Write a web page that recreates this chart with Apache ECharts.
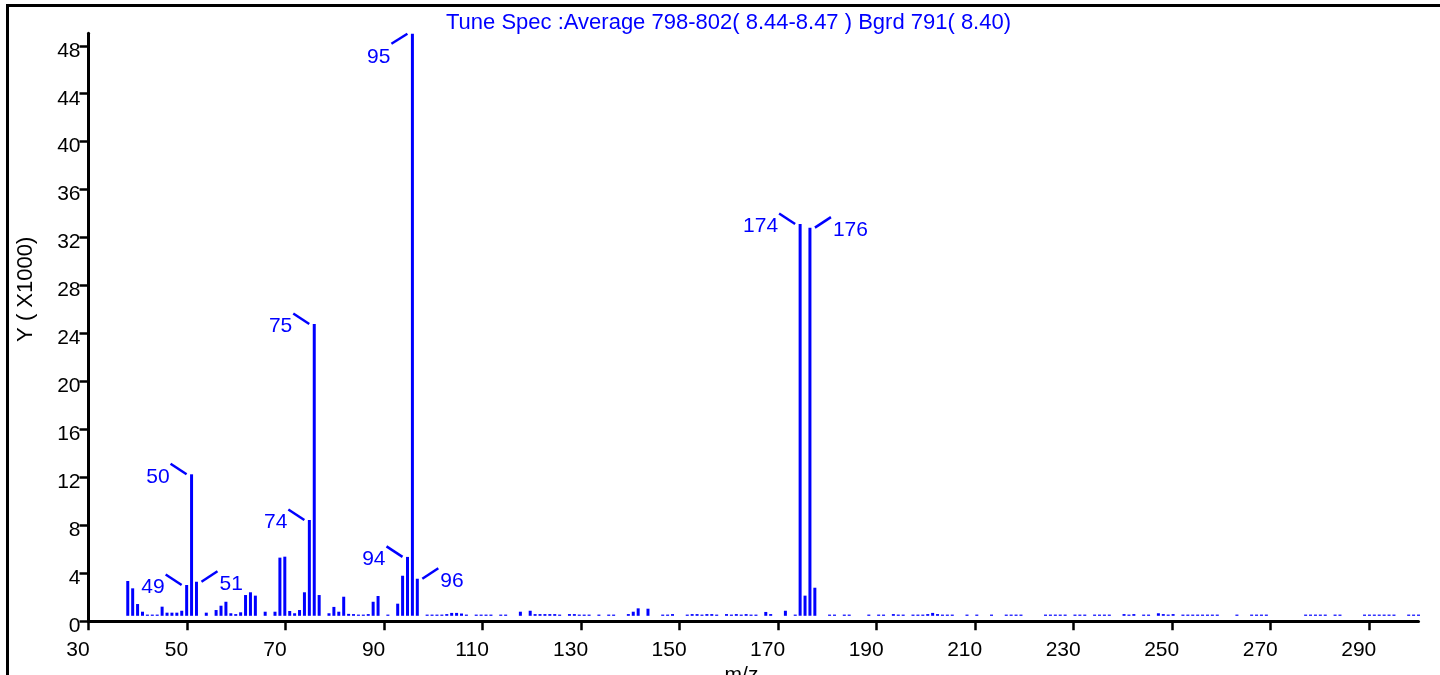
<!DOCTYPE html>
<html>
<head>
<meta charset="utf-8">
<script src="https://cdn.jsdelivr.net/npm/echarts@6/dist/echarts.min.js"></script>
<style>
html,body{margin:0;padding:0;background:#fff;}
#chart{width:1440px;height:675px;}
</style>
</head>
<body>
<div id="chart"></div>
<script>
// ---- data (m/z, intensity in thousands) ----
const titleText = 'Tune Spec :Average 798-802( 8.44-8.47 ) Bgrd 791( 8.40)';
const xName = 'm/z';
const yName = 'Y ( X1000)';

const mz = [
  37,38,39,40,41,42,43,44,45,46,47,48,49,50,51,53,55,56,57,58,59,60,61,62,63,65,67,68,69,70,
  71,72,73,74,75,76,78,79,80,81,82,83,84,85,86,87,88,90,92,93,94,95,96,98,99,100,101,102,103,104,
  105,106,108,109,110,111,113,114,117,119,120,121,122,123,124,125,127,128,129,130,131,133,135,136,139,140,141,143,146,147,
  148,151,152,153,154,155,156,157,159,160,161,162,163,164,165,167,168,171,173,174,175,176,177,180,181,183,184,188,190,191,
  193,194,195,197,198,199,200,201,202,203,204,205,208,210,213,216,217,218,219,224,225,226,227,228,230,231,232,234,235,236,
  237,240,241,242,244,245,247,248,249,250,252,253,254,255,256,257,258,259,263,266,267,268,269,277,278,279,280,281,283,284,
  289,290,291,292,293,294,295,298,299,300
];
const intensity = [
  3.36,2.75,1.44,0.80,0.55,0.55,0.55,1.22,0.72,0.72,0.72,0.88,3.03,12.26,3.30,0.72,0.94,1.30,1.63,0.67,0.60,0.75,2.19,2.42,2.14,0.80,0.80,5.31,5.39,0.86,
  0.67,0.94,2.42,8.45,24.79,2.19,0.67,1.20,0.80,2.05,0.62,0.60,0.55,0.55,0.60,1.63,2.11,0.55,1.47,3.80,5.37,49.0,3.55,0.55,0.55,0.55,0.55,0.60,0.70,0.70,
  0.65,0.55,0.55,0.55,0.55,0.55,0.55,0.55,0.80,0.88,0.60,0.60,0.60,0.60,0.60,0.55,0.60,0.60,0.55,0.55,0.55,0.55,0.55,0.55,0.60,0.80,1.08,1.05,0.55,0.55,
  0.60,0.55,0.60,0.60,0.55,0.60,0.60,0.55,0.60,0.55,0.60,0.55,0.60,0.55,0.55,0.78,0.60,0.88,0.55,33.14,2.14,32.83,2.80,0.55,0.55,0.55,0.55,0.55,0.55,0.55,
  0.60,0.55,0.55,0.55,0.55,0.55,0.60,0.70,0.60,0.55,0.55,0.55,0.55,0.55,0.55,0.55,0.55,0.55,0.55,0.55,0.55,0.55,0.55,0.55,0.55,0.55,0.55,0.55,0.55,0.55,
  0.55,0.60,0.55,0.60,0.55,0.55,0.67,0.60,0.55,0.60,0.55,0.55,0.55,0.55,0.55,0.55,0.55,0.55,0.55,0.55,0.55,0.55,0.55,0.55,0.55,0.55,0.55,0.55,0.55,0.55,
  0.55,0.55,0.55,0.55,0.55,0.55,0.55,0.55,0.55,0.55
];
const labeledPeaks = [49,50,51,74,75,94,95,96,174,176];

// ---- style (not data) ----
const BLUE = '#0000ff';
const FONT = 'Liberation Sans';
const labelSide = {49:'left',50:'left',51:'right',74:'left',75:'left',94:'left',95:'below',96:'right',174:'left',176:'right'};
const BASE_GAP = 5.5;

const barData = mz.map((m, i) => [m, intensity[i]]);
const labelData = labeledPeaks.map(m => [m, intensity[mz.indexOf(m)]]);

function renderBar(params, api) {
  const x = api.value(0), v = api.value(1);
  const top = api.coord([x, v]);
  const base = api.coord([x, 0]);
  const bottom = base[1] - BASE_GAP;
  const h = Math.max(bottom - top[1], 1.2);
  return {type:'rect', shape:{x: top[0] - 1.5, y: bottom - h, width: 3, height: h}, style:{fill: BLUE}};
}

function renderLabel(params, api) {
  const m = api.value(0), v = api.value(1);
  const p = api.coord([m, v]);
  const side = labelSide[m];
  let x1, y1, x2, y2, tx, ty, align;
  if (side === 'right') {
    x1 = p[0] + 5; y1 = p[1]; x2 = p[0] + 21; y2 = p[1] - 10.5; tx = p[0] + 23; ty = p[1] + 2.5; align = 'left';
  } else if (side === 'below') {
    x1 = p[0] - 5; y1 = p[1]; x2 = p[0] - 21; y2 = p[1] + 10; tx = p[0] - 22; ty = p[1] + 23; align = 'right';
  } else {
    x1 = p[0] - 5; y1 = p[1]; x2 = p[0] - 21; y2 = p[1] - 10.5; tx = p[0] - 22; ty = p[1] + 2.5; align = 'right';
  }
  return {type:'group', children:[
    {type:'line', shape:{x1, y1, x2, y2}, style:{stroke: BLUE, lineWidth: 2.5}},
    {type:'text', x: tx, y: ty, style:{text: String(m), fill: BLUE, fontSize: 21, fontFamily: FONT, align: align, verticalAlign: 'middle'}}
  ]};
}

const chart = echarts.init(document.getElementById('chart'), null, {renderer:'canvas'});
chart.setOption({
  animation: false,
  backgroundColor: '#ffffff',
  title: {
    text: titleText, left: 446, top: 12, padding: 0,
    textStyle: {color: BLUE, fontSize: 22, fontWeight: 'normal', fontFamily: FONT}
  },
  graphic: [
    {type:'line', shape:{x1: 6, y1: 5.5, x2: 1440, y2: 5.5}, style:{stroke:'#000', lineWidth: 3}},
    {type:'line', shape:{x1: 7.5, y1: 4, x2: 7.5, y2: 675}, style:{stroke:'#000', lineWidth: 3}}
  ],
  grid: {left: 88.5, right: 21.5, top: 33.3, bottom: 53.7, containLabel: false, outerBoundsMode: 'none'},
  xAxis: [
    {
      type:'value', min: 30, max: 300, interval: 20,
      name: xName, nameLocation: 'middle', nameGap: 40,
      nameTextStyle: {color:'#000', fontSize: 21, fontFamily: FONT, padding:[0,24,0,0]},
      axisLine: {show: true, onZero: false, lineStyle: {color:'#000', width: 3}},
      axisTick: {show: true, length: 9, lineStyle: {color:'#000', width: 2.5}},
      axisLabel: {color:'#000', fontSize: 21, fontFamily: FONT, margin: 18, padding:[0,21,0,0], showMaxLabel: false},
      splitLine: {show: false}
    },
    {type:'value', min: 29, max: 300, show: false}
  ],
  yAxis: [
    {
      type:'value', min: 0, max: 49.04, interval: 4,
      name: yName, nameLocation: 'middle', nameGap: 52, nameRotate: 90,
      nameTextStyle: {color:'#000', fontSize: 22, fontFamily: FONT, padding:[0,0,0,76]},
      axisLine: {show: true, lineStyle: {color:'#000', width: 3}},
      axisTick: {show: true, length: 9, lineStyle: {color:'#000', width: 2.5}},
      axisLabel: {color:'#000', fontSize: 21, fontFamily: FONT, margin: 8, verticalAlign: 'top', lineHeight: 10, showMaxLabel: false},
      splitLine: {show: false}
    }
  ],
  series: [
    {type:'custom', name:'spectrum', coordinateSystem:'cartesian2d', xAxisIndex: 1, yAxisIndex: 0,
     data: barData, encode:{x:0, y:1}, renderItem: renderBar, clip: false},
    {type:'custom', name:'labels', coordinateSystem:'cartesian2d', xAxisIndex: 1, yAxisIndex: 0,
     data: labelData, encode:{x:0, y:1}, renderItem: renderLabel, clip: false, silent: true}
  ]
});
</script>
</body>
</html>
